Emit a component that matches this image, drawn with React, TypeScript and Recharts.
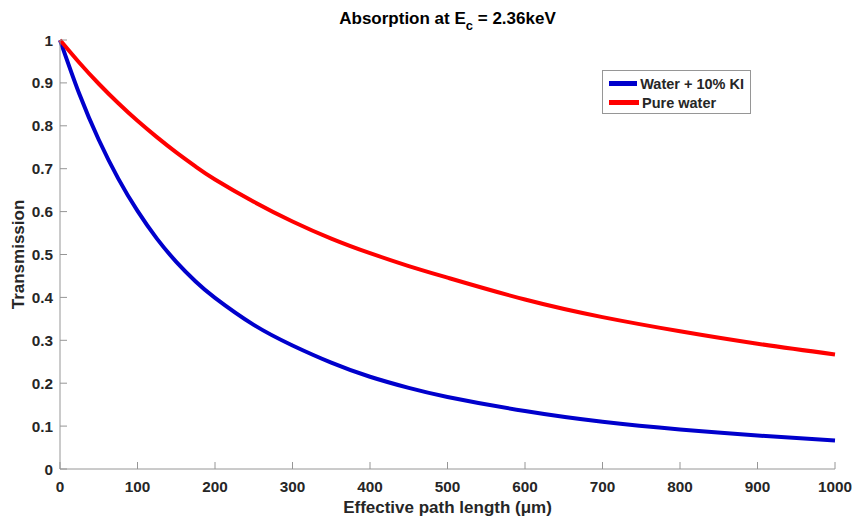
import React from "react";
import {
  LineChart,
  Line,
  XAxis,
  YAxis,
  Legend,
  Label,
} from "recharts";

// ---- Data ------------------------------------------------------------------
const pathLength = [0, 25, 50, 75, 100, 125, 150, 175, 200, 250, 300, 350, 400, 450, 500, 600, 700, 800, 900, 1000];
const waterKI = [1, 0.874, 0.7675, 0.6775, 0.6015, 0.537, 0.483, 0.437, 0.399, 0.336, 0.288, 0.248, 0.215, 0.189, 0.168, 0.135, 0.11, 0.092, 0.078, 0.0665];
const pureWater = [1, 0.947, 0.898, 0.853, 0.8115, 0.7735, 0.738, 0.705, 0.675, 0.623, 0.577, 0.537, 0.503, 0.473, 0.446, 0.395, 0.354, 0.321, 0.292, 0.267];

const seriesNames = ["Water + 10% KI", "Pure water"];
const xTicks = [0, 100, 200, 300, 400, 500, 600, 700, 800, 900, 1000];
const yTicks = [0, 0.1, 0.2, 0.3, 0.4, 0.5, 0.6, 0.7, 0.8, 0.9, 1];

const chartData = pathLength.map((x, i) => ({
  x,
  waterKI: waterKI[i],
  pureWater: pureWater[i],
}));

// ---- Styles ----------------------------------------------------------------
const FONT = '"Liberation Sans", Arial, Helvetica, sans-serif';
const AXIS = "#969696";
const TEXT = "#262626";
const TICK_LEN = 7;

// MATLAB-ish inward ticks
const BottomTick = ({ x, y, payload }: any) => (
  <g>
    <line x1={x} x2={x} y1={y} y2={y - TICK_LEN} stroke={AXIS} />
    <text x={x} y={y + 22.5} textAnchor="middle" fill={TEXT} fontFamily={FONT} fontSize={15.3} fontWeight="bold">
      {payload.value}
    </text>
  </g>
);

const TopTick = ({ x, y }: any) => (
  <line x1={x} x2={x} y1={y} y2={y + TICK_LEN} stroke={AXIS} />
);

const LeftTick = ({ x, y, payload }: any) => (
  <g>
    <line x1={x} x2={x + TICK_LEN} y1={y} y2={y} stroke={AXIS} />
    <text x={x - 7} y={y + 5.5} textAnchor="end" fill={TEXT} fontFamily={FONT} fontSize={15.3} fontWeight="bold">
      {payload.value}
    </text>
  </g>
);

const RightTick = ({ x, y }: any) => (
  <line x1={x} x2={x - TICK_LEN} y1={y} y2={y} stroke={AXIS} />
);

const renderYLabel = (props: any) => {
  const { x, y, height } = props.viewBox;
  const cx = x + 18;
  const cy = y + height / 2;
  return (
    <text
      x={cx}
      y={cy}
      dy="0.36em"
      transform={`rotate(-90, ${cx}, ${cy})`}
      textAnchor="middle"
      fill={TEXT}
      fontFamily={FONT}
      fontSize={17}
      fontWeight="bold"
    >
      Transmission
    </text>
  );
};

const renderXLabel = (props: any) => {
  const { x, y, width } = props.viewBox;
  return (
    <text
      x={x + width / 2}
      y={y + 44}
      textAnchor="middle"
      fill={TEXT}
      fontFamily={FONT}
      fontSize={17}
      fontWeight="bold"
    >
      Effective path length (μm)
    </text>
  );
};

const renderLegend = (props: any) => {
  const items = [...(props.payload ?? [])].sort(
    (a: any, b: any) => seriesNames.indexOf(a.value) - seriesNames.indexOf(b.value)
  );
  return (
    <div
      style={{
        border: `1px solid ${AXIS}`,
        background: "#fff",
        padding: "3px 6px",
        fontFamily: FONT,
        fontWeight: "bold",
        fontSize: 14.5,
        color: TEXT,
        boxSizing: "border-box",
        width: 149,
        height: 44,
      }}
    >
      {items.map((entry: any, i: number) => (
        <div key={`leg-${i}`} style={{ display: "flex", alignItems: "center", height: 19, whiteSpace: "nowrap" }}>
          <span style={{ display: "inline-block", width: 30, height: 5, background: entry.color, marginRight: 3 }} />
          <span>{entry.value}</span>
        </div>
      ))}
    </div>
  );
};

// ---- Component -------------------------------------------------------------
const App: React.FC = () => {
  return (
    <div style={{ position: "relative", width: 855, height: 519, background: "#fff" }}>
      <style>{`body { margin: 0; }`}</style>

      {/* Title */}
      <div
        style={{
          position: "absolute",
          top: 9,
          left: 60,
          width: 775,
          textAlign: "center",
          fontFamily: FONT,
          fontWeight: "bold",
          fontSize: 17,
          lineHeight: "20px",
          color: "#000",
          zIndex: 2,
        }}
      >
        Absorption at E
        <sub style={{ fontSize: 13, lineHeight: 0, verticalAlign: "-6px" }}>c</sub> = 2.36keV
      </div>

      <LineChart
        width={855}
        height={519}
        data={chartData}
        margin={{ top: 40, right: 20, left: 0, bottom: 0 }}
      >
        <XAxis
          dataKey="x"
          type="number"
          domain={[0, 1000]}
          ticks={xTicks}
          interval={0}
          height={50}
          tickLine={false}
          tickSize={0}
          tickMargin={0}
          tick={<BottomTick />}
          axisLine={{ stroke: AXIS }}
          label={<Label content={renderXLabel} />}
        />
        <XAxis
          xAxisId="top"
          orientation="top"
          dataKey="x"
          type="number"
          domain={[0, 1000]}
          ticks={xTicks}
          interval={0}
          height={0}
          tickLine={false}
          tickSize={0}
          tickMargin={0}
          tick={<TopTick />}
          axisLine={{ stroke: AXIS }}
        />
        <YAxis
          type="number"
          domain={[0, 1]}
          ticks={yTicks}
          interval={0}
          width={60}
          tickLine={false}
          tickSize={0}
          tickMargin={0}
          tick={<LeftTick />}
          axisLine={{ stroke: AXIS }}
          label={<Label content={renderYLabel} />}
        />
        <YAxis
          yAxisId="right"
          orientation="right"
          type="number"
          domain={[0, 1]}
          ticks={yTicks}
          interval={0}
          width={0}
          tickLine={false}
          tickSize={0}
          tickMargin={0}
          tick={<RightTick />}
          axisLine={{ stroke: AXIS }}
        />
        <Legend
          layout="vertical"
          align="center"
          verticalAlign="middle"
          content={renderLegend}
          wrapperStyle={{ top: 70, left: 602, width: 149, height: 44 }}
        />
        <Line
          type="natural"
          dataKey="waterKI"
          name={seriesNames[0]}
          stroke="#0000cc"
          strokeWidth={4}
          dot={false}
          isAnimationActive={false}
        />
        <Line
          type="natural"
          dataKey="pureWater"
          name={seriesNames[1]}
          stroke="#ff0000"
          strokeWidth={4}
          dot={false}
          isAnimationActive={false}
        />
      </LineChart>
    </div>
  );
};

export default App;
